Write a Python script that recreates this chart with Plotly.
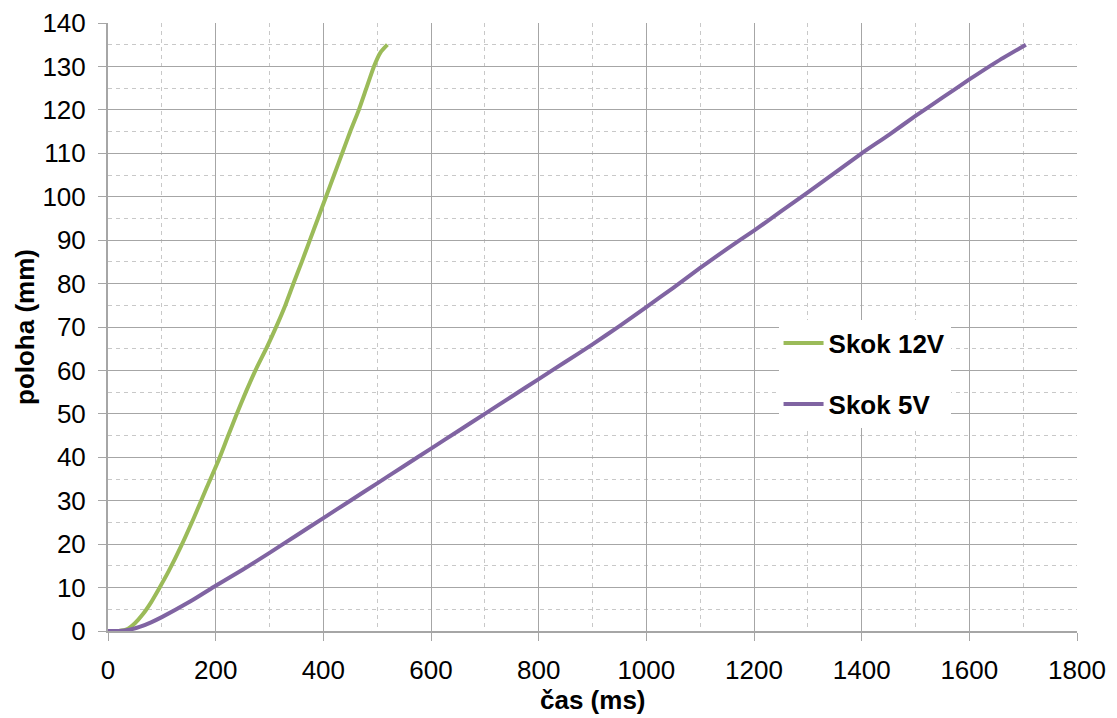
import plotly.graph_objects as go

x_12v = [20, 35, 50, 65, 80, 95, 112, 136, 160, 184, 206, 222, 238, 256, 275, 295, 313, 330, 345, 360, 375, 390, 405, 420, 435, 450, 466, 480, 494, 506, 519]
y_12v = [0, 0.4, 1.8, 3.9, 6.6, 9.8, 13.6, 19.6, 26.2, 33.2, 39.5, 44.6, 49.6, 55, 60.3, 65.3, 70.2, 75.2, 80.2, 85, 90, 95, 100, 105, 110, 115, 120, 125, 130, 133.2, 135]

x_5v = [0, 20, 40, 60, 80, 100, 150, 200, 250, 300, 350, 400, 450, 500, 550, 600, 650, 700, 750, 800, 850, 900, 950, 1000, 1050, 1100, 1150, 1200, 1250, 1300, 1350, 1400, 1450, 1500, 1550, 1600, 1650, 1705]
y_5v = [0, 0, 0.3, 1, 2, 3.2, 6.6, 10.4, 14.1, 18, 22, 26, 30, 34, 38, 42, 46, 50, 54, 58, 62, 66, 70.2, 74.6, 79, 83.6, 88, 92.2, 96.6, 101, 105.5, 110, 114.2, 118.6, 122.8, 127, 131, 135]

names = ["Skok 12V", "Skok 5V"]
colors = ["#9BBB59", "#8064A2"]
x_title = "čas (ms)"
y_title = "poloha (mm)"
x_range = [0, 1800]
y_range = [0, 140]

fig = go.Figure()
fig.add_trace(go.Scatter(x=x_12v, y=y_12v, mode="lines", name=names[0], legendgroup="a",
                         line=dict(color=colors[0], width=4, shape="spline", smoothing=0.5)))
fig.add_trace(go.Scatter(x=x_5v, y=y_5v, mode="lines", name=names[1], legendgroup="b",
                         line=dict(color=colors[1], width=4, shape="spline", smoothing=0.5)))
# invisible trace carrying the label axes
fig.add_trace(go.Scatter(x=[x_range[0]], y=[y_range[0]], xaxis="x2", yaxis="y2", mode="markers",
                         marker=dict(opacity=0), showlegend=False, hoverinfo="skip"))

font = "Liberation Sans, Arial, sans-serif"
grid_major = "#a6a6a6"
grid_minor = "#c8c8c8"
fig.update_layout(
    width=1109, height=710,
    margin=dict(l=100, r=40, t=15, b=87),
    paper_bgcolor="white", plot_bgcolor="white",
    font=dict(family=font, color="black"),
    legend=dict(x=0.692, y=0.512, xanchor="left", yanchor="top",
                bgcolor="white", font=dict(size=26, family=font, color="black", weight="bold"),
                tracegroupgap=24, itemwidth=40),
    xaxis=dict(range=x_range, dtick=200, tick0=0, automargin=False,
               showgrid=True, gridcolor=grid_major, gridwidth=1,
               showline=True, linecolor=grid_major, linewidth=1.5,
               ticks="outside", ticklen=8, tickcolor=grid_major,
               showticklabels=False, zeroline=False,
               minor=dict(dtick=100, showgrid=True, gridcolor=grid_minor, griddash="4px,4px", gridwidth=1)),
    yaxis=dict(range=y_range, dtick=10, tick0=0, automargin=False,
               showgrid=True, gridcolor=grid_major, gridwidth=1,
               showline=True, linecolor=grid_major, linewidth=1.5,
               ticks="outside", ticklen=8, tickcolor=grid_major,
               showticklabels=False, zeroline=False,
               minor=dict(dtick=5, showgrid=True, gridcolor=grid_minor, griddash="4px,4px", gridwidth=1)),
    xaxis2=dict(range=x_range, dtick=200, tick0=0, automargin=False, overlaying="x", anchor="y2",
                side="bottom", showgrid=False, showline=False, zeroline=False,
                ticks="outside", ticklen=16, tickcolor="rgba(0,0,0,0)",
                tickfont=dict(size=26)),
    yaxis2=dict(range=y_range, dtick=10, tick0=0, automargin=False, overlaying="y", anchor="x2",
                side="left", showgrid=False, showline=False, zeroline=False,
                ticks="outside", ticklen=16, tickcolor="rgba(0,0,0,0)",
                tickfont=dict(size=26)),
    annotations=[
        dict(text=x_title, xref="paper", yref="paper", x=0.5, y=0, xanchor="center", yanchor="middle",
             yshift=-69, showarrow=False, font=dict(size=26, weight="bold", family=font, color="black")),
        dict(text=y_title, xref="paper", yref="paper", x=0, y=0.5, xanchor="center", yanchor="middle",
             xshift=-83, textangle=-90, showarrow=False, font=dict(size=26, weight="bold", family=font, color="black")),
    ],
)

fig.write_html("out.html")
